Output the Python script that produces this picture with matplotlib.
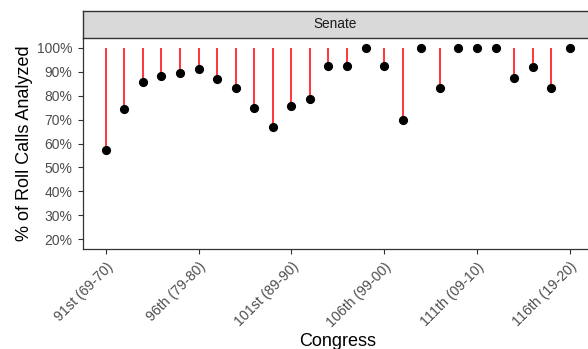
import matplotlib
matplotlib.use("Agg")
import matplotlib.pyplot as plt
from matplotlib.ticker import FuncFormatter

# Share of roll calls analyzed per Senate session
congress = list(range(91, 117))
pct_analyzed = [57.3, 74.3, 85.6, 88.2, 89.6, 91.2, 86.7, 83.3, 75.0, 66.7,
                75.8, 78.6, 92.3, 92.3, 100.0, 92.3, 70.0, 100.0, 83.3, 100.0,
                100.0, 100.0, 87.5, 92.0, 83.3, 100.0]
tick_congress = [91, 96, 101, 106, 111, 116]
tick_labels = ["91st (69-70)", "96th (79-80)", "101st (89-90)",
               "106th (99-00)", "111th (09-10)", "116th (19-20)"]
y_ticks = list(range(20, 101, 10))
chamber = "Senate"

plt.rcParams['font.family'] = ['Liberation Sans', 'DejaVu Sans']

fig = plt.figure(figsize=(5.88, 3.49), dpi=100)
ax = fig.add_axes([82.5 / 588, 100 / 349, (593 - 82.5) / 588, (249 - 38) / 349])

ax.vlines(congress, pct_analyzed, 100, color="red", linewidth=1.1, zorder=2)
ax.plot(congress, pct_analyzed, "o", color="black", markersize=5.6, zorder=3)

ax.set_xlim(89.75, 117.25)
ax.set_ylim(16, 104)
ax.set_xticks(tick_congress)
ax.set_xticklabels(tick_labels, rotation=45, ha="right", va="top",
                   rotation_mode="anchor", fontsize=10.2)
ax.set_yticks(y_ticks)
ax.yaxis.set_major_formatter(FuncFormatter(lambda v, _: f"{v:.0f}%"))
ax.tick_params(axis="both", colors="#333333", labelcolor="#4D4D4D",
               length=3.8, width=0.8)
ax.tick_params(axis="y", labelsize=10)
ax.tick_params(axis="x", pad=4)

for side in ["top", "right"]:
    ax.spines[side].set_visible(False)
for side in ["left", "bottom"]:
    ax.spines[side].set_linewidth(0.9)
    ax.spines[side].set_color("#333333")

ax.set_xlabel("Congress", fontsize=13, color="black", labelpad=2)
ax.set_ylabel("% of Roll Calls Analyzed", fontsize=13, color="black", labelpad=3)

# facet strip
strip = fig.add_axes([82.5 / 588, (349 - 37.5) / 349, (593 - 82.5) / 588, 27 / 349])
strip.set_xticks([])
strip.set_yticks([])
strip.set_facecolor("#D9D9D9")
for s in strip.spines.values():
    s.set_color("#333333")
    s.set_linewidth(1.0)
strip.text((335 - 82.5) / (593 - 82.5), 0.5, chamber, transform=strip.transAxes,
           ha="center", va="center", fontsize=9.8, color="#1A1A1A")

fig.savefig("out.png", dpi=100)
